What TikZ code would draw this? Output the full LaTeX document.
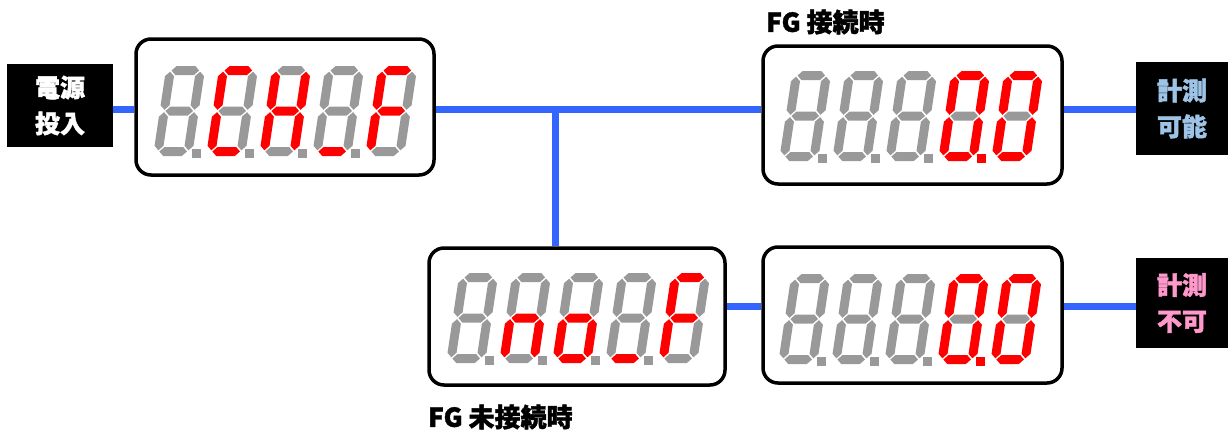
\documentclass[tikz,border=0pt]{standalone}
\usepackage{fontspec}
\newfontfamily\jp{Noto Sans CJK JP}[BoldFeatures={FakeBold=1.5}]
\definecolor{gy}{HTML}{999999}
\definecolor{rd}{HTML}{FF0000}
\definecolor{connblue}{HTML}{3366FF}
\definecolor{okblue}{HTML}{9DC3E6}
\definecolor{ngpink}{HTML}{FF99CC}
% horizontal segment: #1 colour, #2 centre y
\newcommand\hsg[2]{\fill[#1] (5.7pt,#2pt)--(10.2pt,#2pt+4.5pt)--(28.8pt,#2pt+4.5pt)--(33.3pt,#2pt)--(28.8pt,#2pt-4.5pt)--(10.2pt,#2pt-4.5pt)--cycle;}
% vertical segment: #1 colour, #2 centre x, #3 y1, #4 y2
\newcommand\vsg[4]{\fill[#1] (#2pt,#3pt)--(#2pt+4.5pt,#3pt+4.5pt)--(#2pt+4.5pt,#4pt-4.5pt)--(#2pt,#4pt)--(#2pt-4.5pt,#4pt-4.5pt)--(#2pt-4.5pt,#3pt+4.5pt)--cycle;}
\newcommand\sdigit[9]{%
\begin{scope}[shift={(#1,#2)},xslant=0.15]
\hsg{#3}{85.5}
\vsg{#4}{34.5}{46.2}{84.3}
\vsg{#5}{34.5}{5.7}{43.8}
\hsg{#6}{4.5}
\vsg{#7}{4.5}{5.7}{43.8}
\vsg{#8}{4.5}{46.2}{84.3}
\hsg{#9}{45}
\end{scope}}
\newcommand\sdp[3]{\fill[#3] (#1,#2) ++(39,-7) rectangle ++(9,9);}
\begin{document}
\begin{tikzpicture}[x=1pt,y=-1pt,
  dispbox/.style={draw=black,fill=white,line width=3.5pt,rounded corners=15pt,minimum width=298pt,minimum height=136pt,inner sep=0pt},
  lbl/.style={fill=black,inner sep=0pt,align=center,font=\jp\bfseries\fontsize{25}{36}\selectfont},
  captext/.style={inner sep=0pt,anchor=west,font=\jp\bfseries\fontsize{26}{30}\selectfont},
  conn/.style={draw=connblue,line width=7pt}]
\fill[white] (0,0) rectangle (1230,434);
\useasboundingbox (0,0) rectangle (1230,434);
% label boxes
\node[lbl,text=white,minimum width=106pt,minimum height=83pt] (pwr) at (60,105.5) {電源\\投入};
\node[lbl,text=okblue,minimum width=92pt,minimum height=93pt] (ok) at (1182,108.5) {計測\\可能};
\node[lbl,text=ngpink,minimum width=92pt,minimum height=90pt] (ng) at (1182,303) {計測\\不可};
% display boxes
\node[dispbox] (d1) at (285,107) {};
\node[dispbox,minimum width=299pt,minimum height=138pt] (d2) at (912.5,115) {};
\node[dispbox,minimum width=296pt,minimum height=137pt] (d3) at (577,316.5) {};
\node[dispbox,minimum width=299pt] (d4) at (912.5,315) {};
% connectors
\coordinate (j) at (555.5,109);
\coordinate (k) at (744,306);
\draw[conn] (pwr.east |- j) -- (d1.west |- j);
\draw[conn] (d1.east |- j) -- (d2.west |- j);
\draw[conn] (d2.east |- j) -- (ok.west |- j);
\draw[conn] (j) -- (d3.north -| j);
\draw[conn] (d3.east |- k) -- (d4.west |- k);
\draw[conn] (d4.east |- k) -- (ng.west |- k);
% captions
\node[captext] (c1) at (766,22) {FG 接続時};
\node[captext] (c2) at (428,417) {FG 未接続時};
% box 1 digits
\sdigit{153}{156}{gy}{gy}{gy}{gy}{gy}{gy}{gy}
\sdigit{206}{156}{rd}{gy}{gy}{rd}{rd}{rd}{gy}
\sdigit{259}{156}{gy}{rd}{rd}{gy}{rd}{rd}{rd}
\sdigit{312}{156}{gy}{gy}{gy}{rd}{gy}{gy}{gy}
\sdigit{365}{156}{rd}{gy}{gy}{gy}{rd}{rd}{rd}
\sdp{153}{156}{gy}\sdp{206}{156}{gy}\sdp{259}{156}{gy}\sdp{312}{156}{gy}
% box 2 digits
\sdigit{779}{161}{gy}{gy}{gy}{gy}{gy}{gy}{gy}
\sdigit{832}{161}{gy}{gy}{gy}{gy}{gy}{gy}{gy}
\sdigit{885}{161}{gy}{gy}{gy}{gy}{gy}{gy}{gy}
\sdigit{938}{161}{rd}{rd}{rd}{rd}{rd}{rd}{gy}
\sdigit{991}{161}{rd}{rd}{rd}{rd}{rd}{rd}{gy}
\sdp{779}{161}{gy}\sdp{832}{161}{gy}\sdp{885}{161}{gy}\sdp{938}{161}{rd}
% box 3 digits
\sdigit{446}{363}{gy}{gy}{gy}{gy}{gy}{gy}{gy}
\sdigit{499}{363}{gy}{gy}{rd}{gy}{rd}{gy}{rd}
\sdigit{552}{363}{gy}{gy}{rd}{rd}{rd}{gy}{rd}
\sdigit{605}{363}{gy}{gy}{gy}{rd}{gy}{gy}{gy}
\sdigit{658}{363}{rd}{gy}{gy}{gy}{rd}{rd}{rd}
\sdp{446}{363}{gy}\sdp{499}{363}{gy}\sdp{552}{363}{gy}\sdp{605}{363}{gy}
% box 4 digits
\sdigit{778}{364}{gy}{gy}{gy}{gy}{gy}{gy}{gy}
\sdigit{831}{364}{gy}{gy}{gy}{gy}{gy}{gy}{gy}
\sdigit{884}{364}{gy}{gy}{gy}{gy}{gy}{gy}{gy}
\sdigit{937}{364}{rd}{rd}{rd}{rd}{rd}{rd}{gy}
\sdigit{990}{364}{rd}{rd}{rd}{rd}{rd}{rd}{gy}
\sdp{778}{364}{gy}\sdp{831}{364}{gy}\sdp{884}{364}{gy}\sdp{937}{364}{rd}
\end{tikzpicture}
\end{document}
